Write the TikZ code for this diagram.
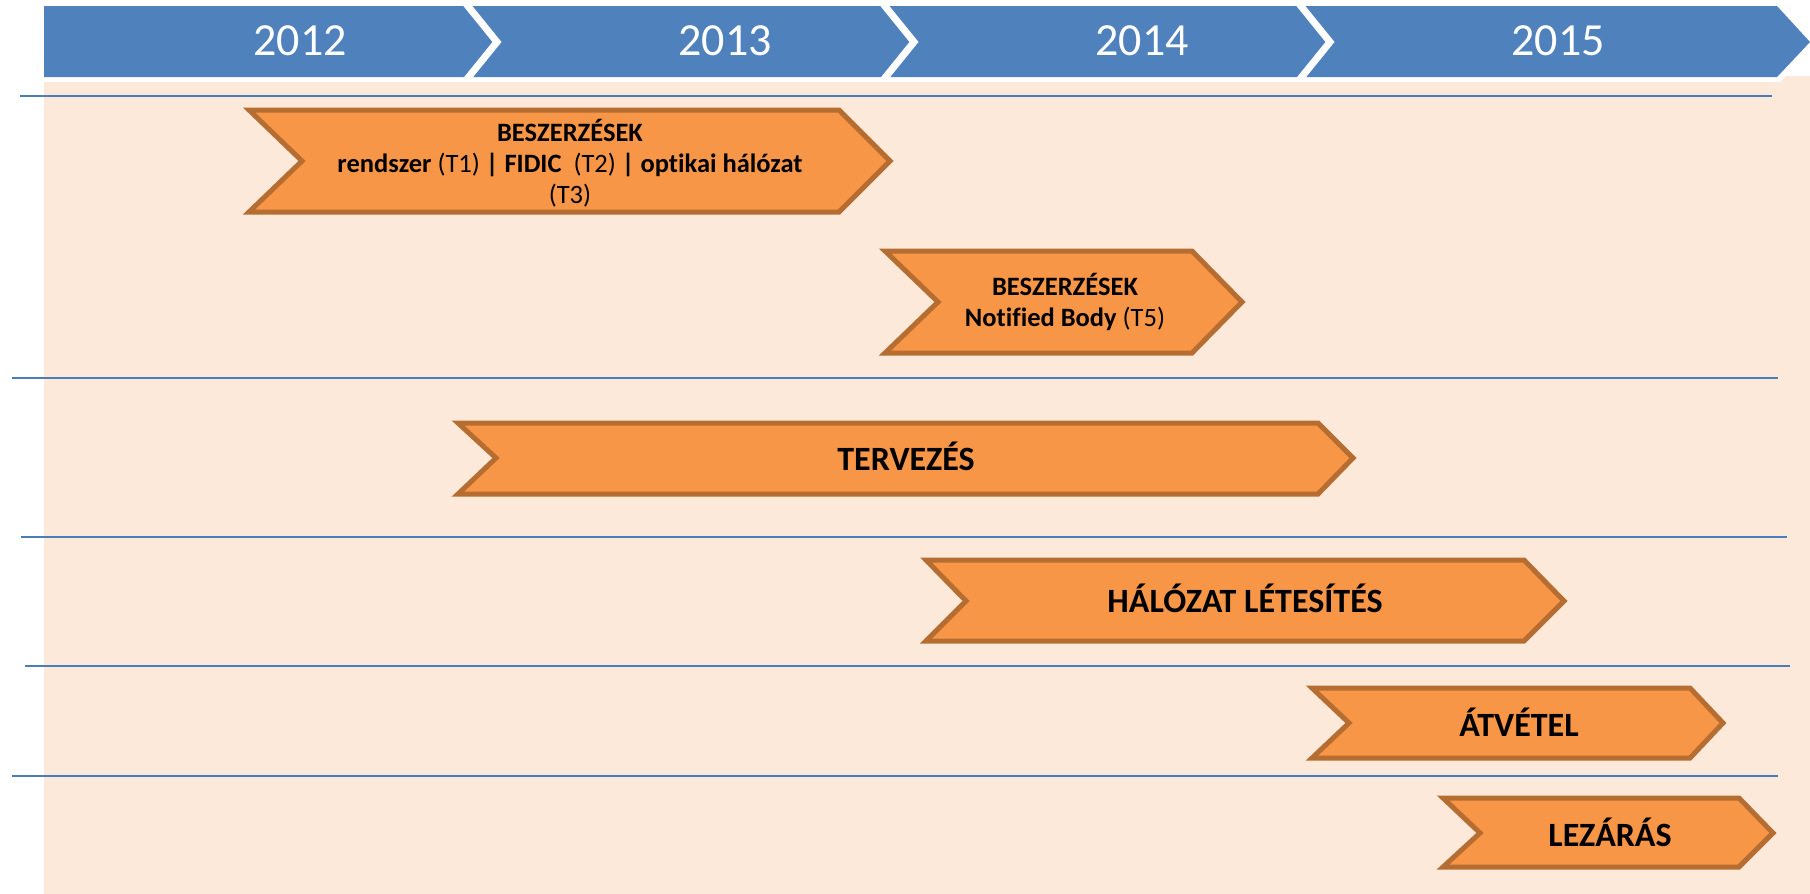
\documentclass[tikz,border=0pt]{standalone}
\usepackage{fontspec}
\setmainfont[Ligatures={NoCommon}]{Carlito}
\definecolor{bandblue}{HTML}{4F81BD}
\definecolor{lineblue}{HTML}{4A7EBB}
\definecolor{peach}{HTML}{FDE9D9}
\definecolor{orfill}{HTML}{F79646}
\definecolor{orline}{HTML}{B66D31}
\tikzset{
  chev/.style={fill=orfill, draw=orline, line width=5pt, line join=miter},
  gridline/.style={draw=lineblue, line width=2pt},
  notchline/.style={draw=white, line width=7pt, line join=miter},
  year/.style={text=white, font=\fontsize{46}{55}\selectfont, anchor=base, inner sep=0pt},
  biglbl/.style={font=\bfseries\fontsize{34}{40}\selectfont, anchor=base, inner sep=0pt},
  smalllbl/.style={font=\fontsize{26.5}{31}\selectfont, align=center, inner sep=0pt}
}
\begin{document}
\begin{tikzpicture}[x=1pt,y=-1pt]
\useasboundingbox (0,0) rectangle (1810,894);
\fill[white] (0,0) rectangle (1810,894);
% peach background
\fill[peach] (44,82) rectangle (1810,894);
\fill[peach] (1780,82) -- (1786,76) -- (1810,76) -- (1810,82) -- cycle;
% blue band
\fill[bandblue] (44,6) -- (1777,6) -- (1810,42) -- (1777,77) -- (44,77) -- cycle;
\begin{scope}
\clip (0,0) rectangle (1810,79);
\draw[notchline] (463,0) -- (497,42) -- (463,84);
\draw[notchline] (880,0) -- (914,42) -- (880,84);
\draw[notchline] (1296,0) -- (1330,42) -- (1296,84);
\end{scope}
\node[year] (y2012) at (300,55) {2012};
\node[year] (y2013) at (725,55) {2013};
\node[year] (y2014) at (1142,55) {2014};
\node[year] (y2015) at (1558,55) {2015};
% horizontal lines
\draw[gridline] (20,96) -- (1772,96);
\draw[gridline] (12,378) -- (1778,378);
\draw[gridline] (21,537) -- (1787,537);
\draw[gridline] (25,666) -- (1790,666);
\draw[gridline] (12,776) -- (1778,776);
% chevrons
\draw[chev] (249,110) -- (839,110) -- (890,161) -- (839,212) -- (249,212) -- (302,161) -- cycle;
\draw[chev] (885,251) -- (1192,251) -- (1242,302) -- (1192,353) -- (885,353) -- (938,302) -- cycle;
\draw[chev] (458,423) -- (1318,423) -- (1353,458) -- (1318,494) -- (458,494) -- (496,458) -- cycle;
\draw[chev] (926,560) -- (1524,560) -- (1564,601) -- (1524,641) -- (926,641) -- (966,601) -- cycle;
\draw[chev] (1312,688) -- (1690,688) -- (1723,723) -- (1690,758) -- (1312,758) -- (1349,723) -- cycle;
\draw[chev] (1443,798) -- (1739,798) -- (1773,833) -- (1739,867) -- (1443,867) -- (1480,833) -- cycle;
% labels
\node[smalllbl] (t1) at (570,163) {\textbf{BESZERZÉSEK}\\\textbf{rendszer} (T1) \textbf{| FIDIC}\ \ (T2) \textbf{| optikai hálózat}\\(T3)};
\node[smalllbl] (t2) at (1065,302) {\textbf{BESZERZÉSEK}\\\textbf{Notified Body} (T5)};
\node[biglbl] (t3) at (906,470) {TERVEZÉS};
\node[biglbl] (t4) at (1245,612) {HÁLÓZAT LÉTESÍTÉS};
\node[biglbl] (t5) at (1519,736) {ÁTVÉTEL};
\node[biglbl] (t6) at (1610,846) {LEZÁRÁS};
\end{tikzpicture}
\end{document}
